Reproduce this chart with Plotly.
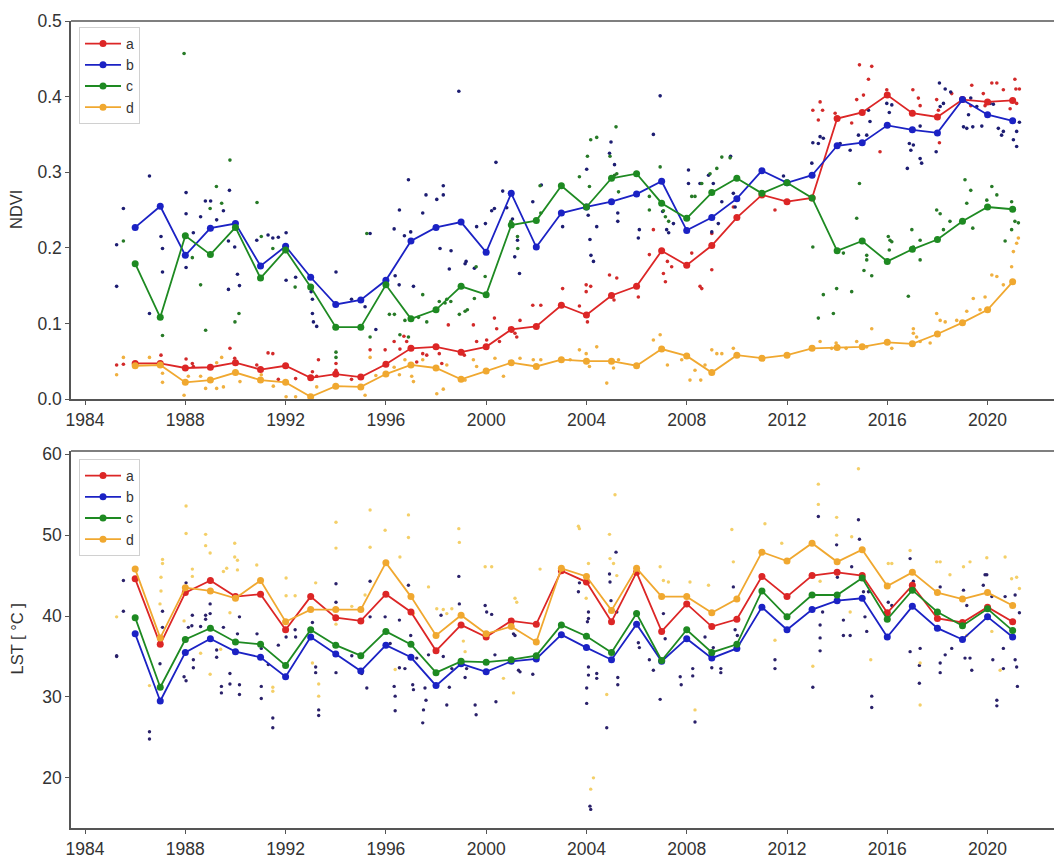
import plotly.graph_objects as go
from plotly.subplots import make_subplots

years = list(range(1986, 2022))

# Annual mean NDVI per site
ndvi_a = [0.047, 0.047, 0.041, 0.042, 0.048, 0.039, 0.044, 0.028, 0.033, 0.029,
          0.046, 0.067, 0.069, 0.062, 0.069, 0.092, 0.096, 0.124, 0.111, 0.137,
          0.149, 0.196, 0.177, 0.203, 0.240, 0.270, 0.261, 0.266, 0.371, 0.379,
          0.402, 0.378, 0.373, 0.396, 0.393, 0.395]
ndvi_b = [0.227, 0.255, 0.190, 0.226, 0.232, 0.176, 0.202, 0.161, 0.125, 0.131,
          0.157, 0.209, 0.227, 0.234, 0.194, 0.272, 0.201, 0.246, 0.254, 0.261,
          0.271, 0.288, 0.223, 0.240, 0.265, 0.302, 0.286, 0.296, 0.335, 0.339,
          0.362, 0.356, 0.352, 0.396, 0.376, 0.368]
ndvi_c = [0.179, 0.108, 0.216, 0.191, 0.227, 0.160, 0.197, 0.148, 0.095, 0.095,
          0.151, 0.106, 0.118, 0.149, 0.138, 0.230, 0.236, 0.282, 0.254, 0.292,
          0.298, 0.259, 0.239, 0.273, 0.292, 0.272, 0.286, 0.266, 0.196, 0.209,
          0.182, 0.198, 0.211, 0.235, 0.254, 0.251]
ndvi_d = [0.044, 0.045, 0.022, 0.025, 0.035, 0.025, 0.022, 0.003, 0.017, 0.016,
          0.033, 0.045, 0.041, 0.026, 0.037, 0.048, 0.043, 0.052, 0.050, 0.050,
          0.044, 0.066, 0.057, 0.035, 0.058, 0.054, 0.058, 0.067, 0.068, 0.069,
          0.075, 0.073, 0.086, 0.101, 0.118, 0.155]

# Annual mean LST per site
lst_a = [44.6, 36.5, 42.9, 44.4, 42.4, 42.7, 38.3, 42.4, 39.8, 39.4,
         42.7, 40.5, 35.7, 38.9, 37.4, 39.4, 39.0, 45.6, 44.2, 39.3,
         45.4, 38.1, 41.5, 38.7, 39.6, 44.9, 42.4, 45.0, 45.4, 45.0,
         40.4, 43.8, 39.7, 39.2, 41.1, 39.3]
lst_b = [37.8, 29.5, 35.5, 37.2, 35.6, 34.9, 32.5, 37.4, 35.3, 33.2,
         36.4, 34.9, 31.4, 34.1, 33.1, 34.4, 34.7, 37.7, 36.1, 34.6,
         39.0, 34.4, 37.2, 34.8, 36.0, 41.1, 38.3, 40.8, 41.9, 42.2,
         37.4, 41.2, 38.5, 37.1, 39.9, 37.4]
lst_c = [39.8, 31.2, 37.1, 38.5, 36.8, 36.5, 33.9, 38.3, 36.4, 35.1,
         38.1, 36.5, 33.0, 34.4, 34.3, 34.6, 35.1, 38.9, 37.5, 35.5,
         40.3, 34.5, 38.3, 35.5, 36.5, 43.1, 39.9, 42.6, 42.6, 44.7,
         39.6, 43.2, 40.5, 38.8, 40.9, 38.2]
lst_d = [45.8, 37.3, 43.5, 43.1, 42.2, 44.4, 39.3, 40.8, 40.8, 40.8,
         46.6, 42.4, 37.6, 40.1, 37.8, 38.7, 36.8, 45.9, 44.9, 40.7,
         45.9, 42.4, 42.4, 40.4, 42.1, 47.9, 46.8, 49.0, 46.7, 48.2,
         43.7, 45.4, 42.9, 42.1, 42.9, 41.3]

# Individual NDVI observations (decimal year, value)
ndvi_obs_a = [(1985.26, 0.045), (1985.53, 0.046), (1987.03, 0.058), (1988.03, 0.053), (1988.28, 0.047),
              (1988.32, 0.043), (1989.78, 0.067), (1989.97, 0.054), (1990.85, 0.045), (1991.30, 0.061),
              (1991.49, 0.060), (1991.71, 0.026), (1992.40, 0.027), (1993.07, 0.036), (1993.24, 0.030),
              (1993.31, 0.052), (1994.01, 0.047), (1994.01, 0.038), (1994.63, 0.026), (1995.37, 0.065),
              (1995.97, 0.065), (1996.33, 0.076), (1996.56, 0.066), (1996.72, 0.083), (1996.83, 0.076),
              (1997.23, 0.049), (1997.47, 0.060), (1997.63, 0.058), (1998.13, 0.060), (1998.23, 0.047),
              (1998.49, 0.098), (1999.13, 0.058), (1999.49, 0.098), (1999.62, 0.076), (2000.02, 0.078),
              (2000.33, 0.107), (2000.42, 0.093), (2000.53, 0.076), (2001.15, 0.087), (2001.22, 0.082),
              (2001.35, 0.104), (2001.86, 0.124), (2002.18, 0.124), (2003.05, 0.146), (2003.72, 0.123),
              (2003.99, 0.142), (2003.99, 0.151), (2004.04, 0.102), (2004.17, 0.149), (2004.92, 0.164),
              (2005.10, 0.131), (2005.21, 0.160), (2006.07, 0.135), (2006.51, 0.191), (2006.67, 0.224),
              (2007.07, 0.166), (2007.15, 0.155), (2007.23, 0.182), (2007.40, 0.175), (2008.20, 0.193),
              (2008.60, 0.146), (2008.53, 0.149), (2009.00, 0.219), (2009.00, 0.171), (2009.86, 0.254),
              (2011.52, 0.250), (2013.03, 0.382), (2013.25, 0.369), (2013.32, 0.393), (2013.42, 0.382),
              (2013.92, 0.378), (2014.58, 0.365), (2014.78, 0.396), (2014.89, 0.442), (2015.05, 0.402),
              (2015.25, 0.423), (2015.38, 0.440), (2015.71, 0.327), (2015.98, 0.409), (2017.02, 0.409),
              (2017.24, 0.398), (2017.31, 0.388), (2017.97, 0.396), (2018.04, 0.382), (2018.08, 0.339),
              (2018.57, 0.404), (2019.37, 0.415), (2019.33, 0.388), (2019.83, 0.404), (2019.90, 0.388),
              (2019.97, 0.391), (2020.17, 0.418), (2020.37, 0.418), (2020.63, 0.409), (2020.90, 0.384),
              (2021.09, 0.423), (2021.13, 0.410), (2021.27, 0.410), (2021.16, 0.391)]
ndvi_obs_b = [(1985.26, 0.204), (1985.53, 0.252), (1985.26, 0.149), (1986.57, 0.295), (1986.57, 0.113),
              (1987.03, 0.215), (1987.09, 0.199), (1987.09, 0.168), (1988.03, 0.273), (1988.03, 0.245),
              (1988.03, 0.174), (1988.32, 0.220), (1988.61, 0.241), (1988.80, 0.262), (1989.01, 0.262),
              (1989.25, 0.237), (1989.52, 0.249), (1989.76, 0.276), (1989.72, 0.209), (1989.72, 0.145),
              (1989.97, 0.201), (1990.08, 0.165), (1990.16, 0.150), (1990.85, 0.210), (1991.30, 0.217),
              (1991.49, 0.213), (1991.71, 0.214), (1992.02, 0.220), (1992.02, 0.157), (1992.40, 0.161),
              (1993.02, 0.142), (1993.07, 0.132), (1993.07, 0.113), (1993.24, 0.096), (1993.11, 0.102),
              (1994.01, 0.168), (1994.63, 0.132), (1995.17, 0.122), (1995.37, 0.219), (1995.60, 0.092),
              (1996.33, 0.225), (1996.54, 0.250), (1996.37, 0.163), (1996.53, 0.151), (1996.74, 0.216),
              (1996.90, 0.290), (1996.99, 0.221), (1997.10, 0.149), (1997.47, 0.246), (1997.60, 0.270),
              (1998.03, 0.264), (1998.16, 0.199), (1998.29, 0.282), (1998.29, 0.270), (1998.53, 0.172),
              (1998.60, 0.196), (1998.91, 0.407), (1999.16, 0.179), (1999.20, 0.182), (1999.53, 0.173),
              (1999.62, 0.228), (1999.97, 0.232), (2000.22, 0.249), (2000.33, 0.252), (2000.39, 0.313),
              (2000.66, 0.275), (2000.82, 0.253), (2001.05, 0.238), (2001.25, 0.210), (2001.14, 0.188),
              (2001.33, 0.166), (2001.86, 0.261), (2002.20, 0.283), (2003.05, 0.228), (2004.01, 0.304),
              (2004.07, 0.243), (2004.14, 0.211), (2004.18, 0.190), (2004.28, 0.182), (2004.41, 0.228),
              (2004.92, 0.325), (2004.98, 0.340), (2005.12, 0.310), (2005.25, 0.246), (2005.25, 0.235),
              (2006.07, 0.213), (2006.11, 0.224), (2006.67, 0.350), (2006.94, 0.401), (2007.04, 0.248),
              (2007.20, 0.224), (2007.28, 0.220), (2007.47, 0.232), (2008.07, 0.303), (2008.07, 0.285),
              (2008.53, 0.285), (2008.87, 0.296), (2009.00, 0.221), (2009.06, 0.285), (2009.26, 0.232),
              (2009.40, 0.261), (2009.75, 0.321), (2009.86, 0.272), (2009.93, 0.254), (2011.86, 0.295),
              (2012.99, 0.312), (2013.03, 0.339), (2013.25, 0.338), (2013.32, 0.347), (2013.45, 0.345),
              (2014.12, 0.338), (2014.52, 0.329), (2014.85, 0.349), (2015.18, 0.349), (2015.25, 0.382),
              (2015.31, 0.367), (2015.98, 0.391), (2016.18, 0.389), (2016.08, 0.379), (2016.80, 0.305),
              (2016.88, 0.338), (2016.94, 0.329), (2017.04, 0.336), (2017.31, 0.361), (2017.37, 0.312),
              (2017.31, 0.318), (2017.95, 0.327), (2018.08, 0.418), (2018.11, 0.387), (2018.24, 0.391),
              (2018.31, 0.410), (2018.53, 0.406), (2019.04, 0.360), (2019.17, 0.358), (2019.24, 0.376),
              (2019.33, 0.398), (2019.41, 0.360), (2019.57, 0.387), (2019.77, 0.361), (2020.10, 0.391),
              (2020.23, 0.390), (2020.43, 0.358), (2020.56, 0.349), (2020.63, 0.354), (2021.03, 0.343),
              (2021.16, 0.354), (2021.16, 0.334), (2021.27, 0.366)]
ndvi_obs_c = [(1985.53, 0.209), (1987.09, 0.084), (1987.95, 0.457), (1988.28, 0.187), (1988.61, 0.151),
              (1988.81, 0.091), (1988.99, 0.252), (1989.24, 0.281), (1989.45, 0.259), (1989.78, 0.316),
              (1989.98, 0.102), (1990.14, 0.113), (1990.86, 0.260), (1991.03, 0.215), (1991.49, 0.199),
              (1992.38, 0.148), (1994.01, 0.062), (1994.01, 0.055), (1995.24, 0.219), (1995.37, 0.082),
              (1996.14, 0.112), (1996.34, 0.112), (1996.56, 0.085), (1996.76, 0.104), (1996.90, 0.082),
              (1997.30, 0.108), (1997.47, 0.138), (1997.63, 0.102), (1998.13, 0.129), (1998.36, 0.127),
              (1998.43, 0.132), (1998.59, 0.129), (1998.93, 0.112), (1999.16, 0.116), (1999.25, 0.118),
              (1999.53, 0.133), (1999.60, 0.175), (1999.96, 0.162), (2000.99, 0.235), (2001.26, 0.199),
              (2001.25, 0.215), (2002.15, 0.282), (2002.18, 0.246), (2003.72, 0.294), (2004.04, 0.321),
              (2004.17, 0.343), (2004.41, 0.346), (2004.12, 0.281), (2004.94, 0.321), (2005.18, 0.360),
              (2005.12, 0.296), (2005.21, 0.298), (2005.28, 0.274), (2006.51, 0.268), (2006.51, 0.250),
              (2006.94, 0.307), (2007.07, 0.249), (2007.15, 0.241), (2007.28, 0.235), (2008.20, 0.268),
              (2008.33, 0.268), (2008.60, 0.285), (2008.93, 0.298), (2009.20, 0.305), (2009.40, 0.320),
              (2009.73, 0.319), (2013.03, 0.201), (2013.25, 0.107), (2013.45, 0.138), (2013.85, 0.113),
              (2013.98, 0.146), (2014.25, 0.193), (2014.58, 0.142), (2014.78, 0.239), (2014.89, 0.285),
              (2015.07, 0.170), (2015.18, 0.190), (2015.18, 0.184), (2015.38, 0.163), (2016.04, 0.215),
              (2016.11, 0.210), (2016.08, 0.197), (2016.18, 0.208), (2016.84, 0.136), (2016.98, 0.224),
              (2017.04, 0.201), (2017.31, 0.210), (2017.31, 0.184), (2017.97, 0.250), (2018.11, 0.245),
              (2018.24, 0.224), (2018.50, 0.235), (2019.10, 0.290), (2019.17, 0.259), (2019.33, 0.276),
              (2019.41, 0.226), (2019.97, 0.263), (2020.17, 0.281), (2020.37, 0.270), (2020.70, 0.209),
              (2020.96, 0.224), (2021.09, 0.235), (2021.23, 0.233), (2020.96, 0.261)]
ndvi_obs_d = [(1985.26, 0.032), (1985.53, 0.055), (1986.57, 0.055), (1987.09, 0.034), (1987.09, 0.022),
              (1987.95, 0.005), (1988.12, 0.030), (1988.61, 0.030), (1988.81, 0.014), (1989.25, 0.014),
              (1989.25, 0.048), (1989.45, 0.055), (1989.52, 0.016), (1990.18, 0.023), (1991.03, 0.032),
              (1991.51, 0.017), (1992.02, 0.003), (1992.40, 0.003), (1993.24, 0.016), (1995.17, 0.005),
              (1995.37, 0.055), (1995.60, 0.031), (1995.97, 0.034), (1996.33, 0.042), (1996.54, 0.032),
              (1996.76, 0.052), (1997.03, 0.030), (1997.10, 0.023), (1997.47, 0.052), (1998.03, 0.007),
              (1998.29, 0.013), (1998.43, 0.045), (1999.16, 0.025), (1999.49, 0.052), (1999.62, 0.043),
              (2000.35, 0.054), (2000.69, 0.030), (2001.35, 0.054), (2001.88, 0.052), (2002.18, 0.052),
              (2003.35, 0.052), (2003.72, 0.065), (2003.99, 0.060), (2004.12, 0.043), (2004.41, 0.069),
              (2004.81, 0.021), (2005.08, 0.041), (2005.28, 0.052), (2006.67, 0.078), (2006.94, 0.085),
              (2007.23, 0.045), (2007.80, 0.052), (2008.13, 0.025), (2008.33, 0.038), (2008.56, 0.025),
              (2008.73, 0.045), (2009.00, 0.065), (2009.20, 0.060), (2009.40, 0.060), (2009.86, 0.067),
              (2011.06, 0.052), (2013.03, 0.069), (2013.32, 0.076), (2013.78, 0.067), (2013.96, 0.074),
              (2014.36, 0.067), (2014.78, 0.076), (2015.18, 0.069), (2015.38, 0.093), (2016.18, 0.067),
              (2017.04, 0.093), (2017.04, 0.087), (2017.17, 0.082), (2017.31, 0.076), (2017.71, 0.074),
              (2017.97, 0.113), (2018.11, 0.104), (2018.31, 0.102), (2018.77, 0.104), (2019.17, 0.116),
              (2019.43, 0.133), (2019.70, 0.118), (2019.90, 0.135), (2020.17, 0.164), (2020.37, 0.162),
              (2020.63, 0.151), (2020.96, 0.175), (2021.03, 0.195), (2021.16, 0.206), (2021.23, 0.213)]

# Individual LST observations (decimal year, °C)
lst_obs_b = [(1985.53, 44.4), (1985.53, 40.6), (1985.26, 35.1), (1985.26, 35.0), (1986.57, 25.7),
             (1986.57, 24.8), (1987.09, 40.6), (1987.09, 38.6), (1986.99, 34.1), (1988.03, 44.1),
             (1988.03, 32.0), (1988.12, 38.6), (1988.26, 38.8), (1988.28, 40.1), (1988.32, 34.6),
             (1988.32, 33.6), (1987.95, 32.5), (1988.61, 38.7), (1988.81, 40.1), (1988.81, 39.6),
             (1988.99, 41.5), (1988.99, 40.3), (1989.25, 35.8), (1989.25, 34.9), (1989.44, 31.3),
             (1989.44, 30.5), (1989.52, 38.6), (1989.78, 32.9), (1989.78, 31.6), (1990.08, 37.8),
             (1990.16, 31.5), (1990.16, 30.3), (1990.16, 39.9), (1990.86, 37.8), (1991.03, 31.3),
             (1991.03, 29.8), (1991.03, 36.0), (1991.31, 34.0), (1991.49, 27.4), (1991.49, 26.2),
             (1991.71, 36.4), (1992.02, 37.4), (1992.38, 38.3), (1992.40, 37.4), (1993.07, 39.2),
             (1993.20, 33.7), (1993.20, 33.0), (1993.32, 28.4), (1993.32, 27.7), (1994.01, 44.0),
             (1994.01, 41.7), (1994.01, 33.0), (1994.64, 35.1), (1995.04, 32.9), (1995.24, 31.1),
             (1995.37, 44.3), (1995.37, 39.9), (1995.97, 39.9),
             (1996.17, 36.6), (1996.33, 31.3), (1996.37, 30.1), (1996.37, 28.3), (1996.54, 39.5),
             (1996.54, 33.6), (1996.76, 33.5), (1996.90, 43.8), (1996.99, 37.6), (1997.07, 31.5),
             (1997.10, 30.9), (1997.23, 34.8), (1997.47, 26.8), (1997.50, 28.4), (1997.56, 31.1),
             (1997.60, 29.6), (1997.70, 35.2), (1998.20, 40.1), (1998.29, 35.0), (1998.43, 29.0),
             (1998.53, 31.2), (1998.63, 33.5), (1998.91, 44.9), (1998.93, 41.5), (1999.16, 32.4),
             (1999.22, 33.5), (1999.56, 29.0), (1999.60, 27.8), (1999.96, 41.3), (2000.02, 40.5),
             (2000.22, 40.2), (2000.39, 29.4), (2000.35, 35.2), (2001.09, 37.8), (2001.15, 37.6),
             (2001.29, 33.3), (2001.35, 33.1), (2001.86, 32.8), (2003.68, 43.0), (2003.72, 44.1),
             (2004.04, 39.3), (2004.08, 40.5), (2004.08, 39.7), (2004.08, 33.7), (2004.08, 32.7),
             (2004.01, 31.1), (2004.01, 29.2), (2004.14, 16.5), (2004.17, 16.1), (2004.41, 32.9),
             (2004.41, 32.3), (2004.81, 26.2), (2004.92, 45.2), (2004.94, 44.2), (2004.98, 41.9),
             (2005.18, 47.9), (2005.21, 40.5), (2005.25, 32.4), (2005.25, 31.5), (2006.07, 36.7),
             (2006.11, 36.1), (2006.51, 34.6), (2006.67, 33.3), (2006.94, 29.7), (2007.07, 40.3),
             (2007.14, 37.2), (2007.74, 32.5), (2007.78, 31.5), (2008.24, 33.5), (2008.24, 32.6),
             (2008.33, 26.9), (2008.73, 37.4),
             (2009.00, 33.6), (2009.06, 36.1), (2009.36, 33.5), (2009.36, 33.0), (2009.86, 43.6),
             (2009.93, 38.3), (2010.02, 37.6), (2011.52, 34.6), (2011.52, 33.5), (2013.03, 31.2),
             (2013.25, 52.3), (2013.32, 38.9), (2013.32, 37.3), (2013.32, 35.7), (2013.42, 40.5),
             (2013.98, 48.8), (2014.01, 44.8), (2014.25, 39.5), (2014.25, 37.6), (2014.52, 37.6),
             (2014.58, 46.1), (2014.85, 51.9), (2014.89, 49.5), (2015.05, 43.0), (2015.11, 39.9),
             (2015.18, 38.1), (2015.25, 43.0), (2015.38, 30.1), (2015.38, 28.7), (2016.04, 41.7),
             (2016.18, 41.3), (2016.91, 47.1), (2016.91, 35.6), (2017.04, 44.3), (2017.31, 36.0),
             (2017.28, 33.9), (2017.28, 31.7), (2018.11, 43.6), (2018.11, 34.2), (2018.11, 33.0),
             (2018.31, 35.2), (2018.57, 36.0), (2019.04, 43.2), (2019.10, 34.8), (2019.17, 41.3),
             (2019.30, 34.8), (2019.37, 33.3), (2019.83, 43.8), (2019.90, 45.1), (2019.97, 45.1),
             (2020.17, 42.4), (2020.21, 34.6), (2020.37, 29.6), (2020.37, 28.9), (2020.63, 33.5),
             (2020.63, 36.0), (2020.70, 42.4), (2021.10, 42.6), (2021.10, 34.6), (2021.16, 33.7),
             (2021.19, 31.3), (2021.27, 40.4)]
lst_obs_d = [(1985.26, 39.9), (1986.57, 31.4), (1987.09, 47.0), (1987.09, 46.5), (1987.03, 44.8),
             (1986.99, 41.5), (1987.03, 43.1), (1988.03, 53.6), (1988.03, 50.2), (1988.28, 45.8),
             (1988.28, 44.9), (1987.95, 39.4), (1988.61, 35.4), (1988.81, 50.1), (1988.81, 48.7),
             (1988.99, 47.8), (1988.99, 32.8), (1989.41, 35.9), (1989.52, 45.5), (1989.65, 45.9),
             (1989.97, 49.0), (1989.97, 47.3), (1990.08, 46.9), (1990.08, 45.7), (1989.78, 40.4),
             (1990.85, 46.3), (1991.49, 31.2), (1991.49, 30.7), (1992.02, 44.7), (1992.02, 42.5),
             (1992.38, 42.5), (1993.32, 31.6), (1993.32, 30.1), (1993.20, 44.1), (1993.07, 34.2),
             (1994.01, 51.6), (1994.01, 48.4), (1994.01, 39.0), (1994.64, 41.2), (1995.37, 53.1),
             (1995.37, 48.5), (1995.17, 42.6), (1995.97, 50.6),
             (1996.37, 33.4), (1996.56, 47.3), (1996.90, 52.5), (1996.90, 49.7), (1997.10, 40.3),
             (1997.70, 43.6), (1998.03, 40.9), (1998.29, 40.8), (1998.43, 40.3), (1998.63, 40.9),
             (1998.91, 50.8), (1998.93, 49.1), (1999.09, 36.9), (1999.16, 35.6), (1999.96, 46.1),
             (2000.22, 46.1), (2000.69, 32.3), (2001.09, 30.5), (2001.15, 42.2), (2001.22, 41.7),
             (2002.15, 45.8), (2003.68, 51.1), (2003.72, 50.8), (2003.99, 42.2), (2004.08, 46.5),
             (2004.28, 20.0), (2004.17, 18.6), (2004.81, 30.3), (2004.92, 50.1), (2004.94, 47.1),
             (2005.08, 46.5), (2005.14, 55.0), (2005.21, 45.0), (2006.94, 46.1), (2007.07, 44.4),
             (2007.27, 44.2), (2008.13, 44.2), (2008.33, 28.4), (2008.87, 43.8),
             (2009.80, 50.7), (2009.86, 46.7), (2011.12, 51.4), (2011.52, 37.0), (2011.79, 49.0),
             (2013.25, 56.3), (2013.25, 53.8), (2013.03, 33.8), (2013.32, 44.3), (2013.98, 52.2),
             (2013.98, 50.0), (2014.52, 40.5), (2014.85, 58.2), (2014.58, 49.8), (2015.34, 34.6),
             (2016.04, 46.5), (2016.18, 46.5), (2016.91, 48.1), (2017.31, 34.2), (2017.31, 29.0),
             (2017.97, 46.7), (2018.11, 46.7), (2018.50, 45.1), (2019.04, 46.1), (2019.17, 37.6),
             (2019.30, 46.7), (2019.97, 47.2), (2020.17, 38.1), (2020.50, 33.3), (2020.70, 47.3),
             (2020.96, 44.6), (2021.16, 44.8), (2021.27, 43.4)]

site_names = ["a", "b", "c", "d"]
line_colors = ["#dc2626", "#1b22c4", "#1e8a22", "#f0a830"]
dot_colors = ["#d22a2a", "#1d1d72", "#277a27", "#f0b040"]

FONT = "Liberation Sans, Arial, sans-serif"
AXIS_COLOR = "#555555"
TEXT_COLOR = "#333333"

fig = make_subplots(rows=2, cols=1, vertical_spacing=0.06)


def add_obs(points, color, row, size=3.6, opacity=1.0):
    fig.add_trace(go.Scatter(
        x=[p[0] for p in points], y=[p[1] for p in points],
        mode="markers", showlegend=False, hoverinfo="skip",
        marker=dict(color=color, size=size, opacity=opacity, line=dict(width=0)),
    ), row=row, col=1)


# NDVI panel: observations underneath, annual means on top
for pts, col in zip([ndvi_obs_a, ndvi_obs_b, ndvi_obs_c, ndvi_obs_d], dot_colors):
    add_obs(pts, col, 1)
for name, vals, col in zip(site_names, [ndvi_a, ndvi_b, ndvi_c, ndvi_d], line_colors):
    fig.add_trace(go.Scatter(
        x=years, y=vals, mode="lines+markers", name=name, legend="legend",
        line=dict(color=col, width=1.8), marker=dict(color=col, size=7),
    ), row=1, col=1)

# LST panel
add_obs(lst_obs_b, "#2a216a", 2, size=3.4)
add_obs(lst_obs_d, "#f2c74e", 2, size=3.4, opacity=0.85)
for name, vals, col in zip(site_names, [lst_a, lst_b, lst_c, lst_d], line_colors):
    fig.add_trace(go.Scatter(
        x=years, y=vals, mode="lines+markers", name=name, legend="legend2",
        line=dict(color=col, width=1.8), marker=dict(color=col, size=7),
    ), row=2, col=1)

W, H = 1054, 860
L = 71
top_dom = [1 - 399 / H, 1 - 21 / H]
bot_dom = [1 - 828 / H, 1 - 451 / H]

axis_common = dict(
    showline=True, linecolor=AXIS_COLOR, linewidth=1.5, showgrid=False, zeroline=False,
    ticks="outside", ticklen=4, tickwidth=1.2, tickcolor=AXIS_COLOR,
    tickfont=dict(family=FONT, size=17.5, color=TEXT_COLOR), automargin=False,
)
xticks = list(range(1984, 2021, 4))
for ax in ["xaxis", "xaxis2"]:
    fig.layout[ax].update(range=[1983.44, 2022.65], tickvals=xticks,
                          ticktext=[str(t) for t in xticks], **axis_common)
fig.layout.yaxis.update(domain=top_dom, range=[0, 0.5], tickvals=[0, 0.1, 0.2, 0.3, 0.4, 0.5],
                        tickformat=".1f", **axis_common)
fig.layout.yaxis2.update(domain=bot_dom, range=[13.8, 60.4], tickvals=[20, 30, 40, 50, 60],
                         **axis_common)

# top spine of each panel
for yref, xref in [("y domain", "x domain"), ("y2 domain", "x2 domain")]:
    fig.add_shape(type="line", xref=xref, yref=yref, x0=0, x1=1, y0=1, y1=1,
                  line=dict(color=AXIS_COLOR, width=1.5))

# y-axis titles
for text, ymid in [("NDVI", (top_dom[0] + top_dom[1]) / 2), ("LST [ °C ]", (bot_dom[0] + bot_dom[1]) / 2)]:
    fig.add_annotation(text=text, xref="paper", yref="paper", x=(16 - L) / (W - L), y=ymid,
                       xanchor="center", yanchor="middle", textangle=-90, showarrow=False,
                       font=dict(family=FONT, size=16.5, color=TEXT_COLOR))

legend_style = dict(
    xanchor="left", yanchor="top", bgcolor="rgba(255,255,255,0.9)",
    bordercolor="#d0d0d0", borderwidth=1, itemwidth=36,
    font=dict(family=FONT, size=14, color=TEXT_COLOR), tracegroupgap=0,
)
fig.update_layout(
    width=W, height=H,
    margin=dict(l=L, r=0, t=0, b=0, autoexpand=False),
    paper_bgcolor="white", plot_bgcolor="white",
    font=dict(family=FONT, color=TEXT_COLOR),
    legend=dict(x=(79 - L) / (W - L), y=1 - 27 / H, **legend_style),
    legend2=dict(x=(79 - L) / (W - L), y=1 - 459 / H, **legend_style),
)

fig.write_html("out.html")
